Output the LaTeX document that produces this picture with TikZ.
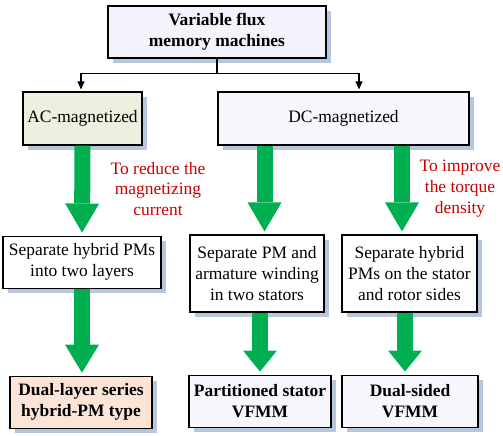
\documentclass[tikz,border=0pt]{standalone}
\usepackage{fontspec}
\setmainfont{Liberation Serif}
\usepackage{tikz}
\usetikzlibrary{
    positioning,
    arrows.meta,
    shadows
}
\definecolor{ShadowBlue}{RGB}{182,198,222}
\definecolor{RootFill}{RGB}{243,243,252}
\definecolor{AcFill}{RGB}{235,241,222}
\definecolor{DcFill}{RGB}{248,246,253}
\definecolor{PeachFill}{RGB}{252,229,214}
\definecolor{ArrowGreen}{RGB}{0,176,80}
\definecolor{NoteRed}{RGB}{200,0,0}

\begin{document}
\begin{tikzpicture}[
    x=1bp, y=-1bp,
    every node/.style={font=\fontsize{17.5}{21}\selectfont},
    box/.style={rectangle, draw, line width=1.1bp, align=center, inner sep=2bp,
        drop shadow={shadow xshift=5bp, shadow yshift=-5bp, fill=ShadowBlue, opacity=1}},
    topbox/.style={box, fill=RootFill, minimum width=218bp, minimum height=52bp, font=\fontsize{17.5}{21}\selectfont\bfseries},
    classbox/.style={box, minimum height=53bp},
    stepbox/.style={box, fill=white},
    resultbox/.style={box, fill=DcFill, minimum height=52bp, font=\fontsize{17.5}{21}\selectfont\bfseries},
    note/.style={align=center, text=NoteRed},
    link/.style={line width=1.1bp, -{Triangle[width=7bp,length=8bp]}, shorten >=2bp},
    bigarrow/.style={draw=ArrowGreen, line width=16bp, -{Triangle[width=34bp,length=#1,line width=0pt]}, shorten >=3bp},
    bigarrow/.default=29bp
]
\useasboundingbox (0,0) rectangle (503,436);

\node[topbox] (root) at (217,32) {Variable flux\\memory machines};
\node[classbox, fill=AcFill, minimum width=119bp] (ac) at (82.5,118.5) {AC-magnetized};
\node[classbox, fill=DcFill, minimum width=251bp] (dc) at (343.5,118.5) {DC-magnetized};

\node[stepbox, minimum width=158bp, minimum height=52bp, below=90bp of ac, xshift=-0.5bp] (sepA) {Separate hybrid PMs\\into two layers};
\node[stepbox, minimum width=134bp, minimum height=77bp] (sepB) at (257,273.5) {Separate PM and\\armature winding\\in two stators};
\node[stepbox, minimum width=135bp, minimum height=77bp] (sepC) at (409.5,273.5) {Separate hybrid\\PMs on the stator\\and rotor sides};

\node[resultbox, fill=PeachFill, minimum width=142bp, below=87bp of sepA, xshift=-1bp] (dual) {Dual-layer series\\hybrid-PM type};
\node[resultbox, minimum width=142bp, below=62bp of sepB, xshift=3bp] (part) {Partitioned stator\\VFMM};
\node[resultbox, minimum width=136bp, below=62bp of sepC, xshift=0.5bp] (sided) {Dual-sided\\VFMM};

\node[note] (noteA) at (158,189) {To reduce the\\magnetizing\\current};
\node[note] (noteC) at (460,189) {To improve\\the torque\\density};

% tree links
\coordinate[below=15bp of root.south] (split);
\draw[line width=1.1bp] (root.south) -- (split);
\draw[link] (split) -| ([xshift=-1.5bp]ac.north);
\draw[link] (split) -| ([xshift=15.5bp]dc.north);

% green arrows
\draw[bigarrow] (ac.south) -- (sepA.north);
\draw[bigarrow] ([xshift=7.5bp]sepB.north |- dc.south) -- ([xshift=7.5bp]sepB.north);
\draw[bigarrow] ([xshift=-7.5bp]sepC.north |- dc.south) -- ([xshift=-7.5bp]sepC.north);
\draw[bigarrow=28bp] (sepA.south) -- (sepA.south |- dual.north);
\draw[bigarrow=21bp] (part.north |- sepB.south) -- (part.north);
\draw[bigarrow=21bp] ([xshift=-5bp]sided.north |- sepC.south) -- ([xshift=-5bp]sided.north);
\end{tikzpicture}
\end{document}
